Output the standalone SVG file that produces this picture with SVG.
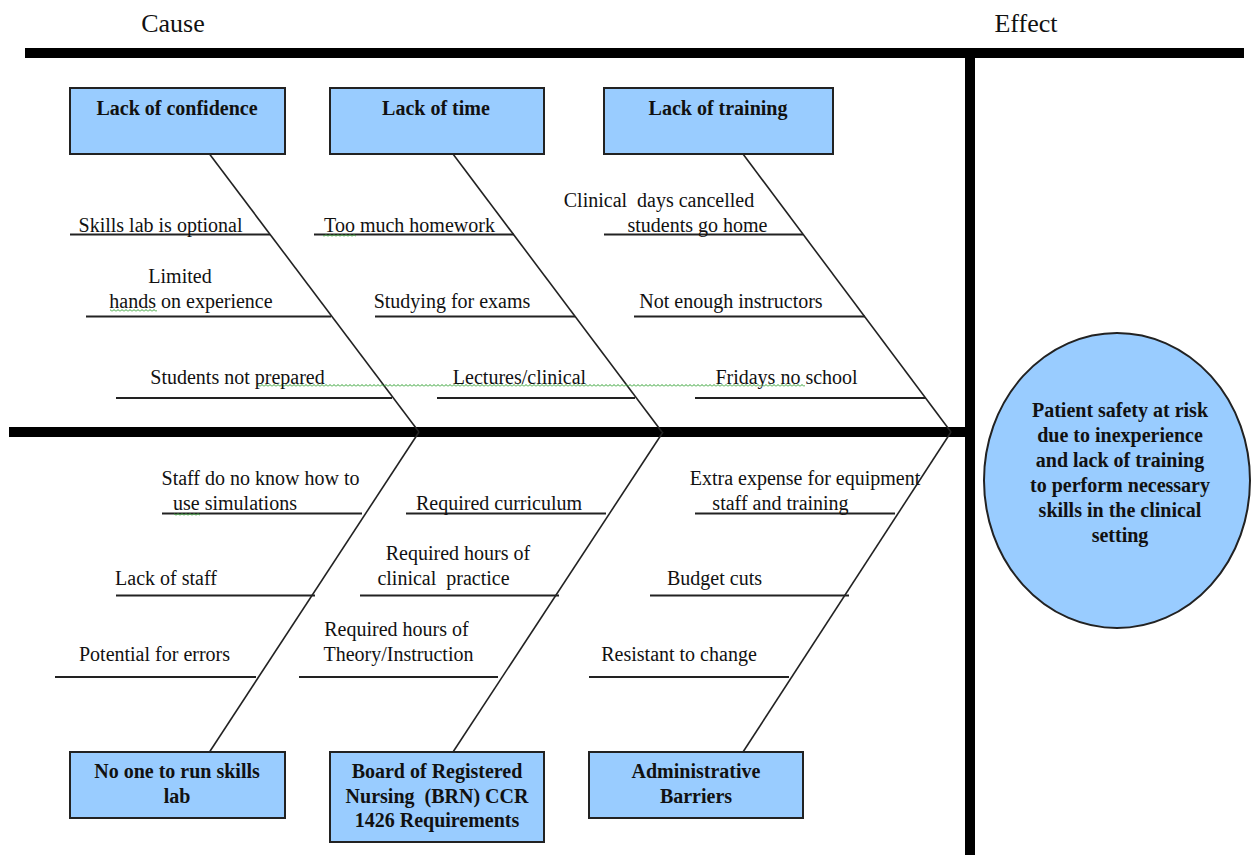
<svg xmlns="http://www.w3.org/2000/svg" width="1253" height="855" viewBox="0 0 1253 855">
<defs>
<style>
.lbl{font-family:"Liberation Serif","Times New Roman",serif;font-size:20px;fill:#111;text-anchor:middle}
.hd{font-family:"Liberation Serif","Times New Roman",serif;font-size:20px;font-weight:bold;fill:#111;text-anchor:middle}
.ttl{font-family:"Liberation Serif","Times New Roman",serif;font-size:26px;fill:#111;text-anchor:middle}
.box{fill:#99CCFF;stroke:#222;stroke-width:2}
.bone{stroke:#222;stroke-width:1.6;fill:none}
.rib{stroke:#222;stroke-width:2;fill:none}
.bar{fill:#000}
</style>
<pattern id="sq" width="4" height="3" patternUnits="userSpaceOnUse">
<path d="M0,2.5 L2,0.5 L4,2.5" stroke="#2e9e2e" stroke-width="1" fill="none"/>
</pattern>
</defs>
<rect width="1253" height="855" fill="#fff"/>

<text class="ttl" x="173" y="32">Cause</text>
<text class="ttl" x="1026" y="32">Effect</text>

<g id="frame">
<rect class="bar" x="25" y="48" width="1219" height="10"/>
<rect class="bar" x="965" y="48" width="10" height="807"/>
<rect class="bar" x="9" y="427" width="961" height="10"/>
</g>

<g id="connectors">
<line class="bone" x1="209.5" y1="154" x2="419" y2="432"/>
<line class="bone" x1="453" y1="154" x2="662" y2="432"/>
<line class="bone" x1="743" y1="154" x2="951" y2="432"/>
<line class="bone" x1="419" y1="432" x2="209.5" y2="752"/>
<line class="bone" x1="663" y1="432" x2="453" y2="752"/>
<line class="bone" x1="951" y1="432" x2="743" y2="752"/>
<line class="rib" x1="70" y1="234.5" x2="270" y2="234.5"/>
<line class="rib" x1="314" y1="234.5" x2="514" y2="234.5"/>
<line class="rib" x1="604" y1="234.5" x2="803" y2="234.5"/>
<line class="rib" x1="86" y1="316.5" x2="331" y2="316.5"/>
<line class="rib" x1="375" y1="316.5" x2="575" y2="316.5"/>
<line class="rib" x1="634" y1="316.5" x2="865" y2="316.5"/>
<line class="rib" x1="116" y1="398" x2="392" y2="398"/>
<line class="rib" x1="437" y1="398" x2="635" y2="398"/>
<line class="rib" x1="695" y1="398" x2="926" y2="398"/>
<line class="rib" x1="162" y1="513.5" x2="362" y2="513.5"/>
<line class="rib" x1="406" y1="513.5" x2="606" y2="513.5"/>
<line class="rib" x1="695" y1="513.5" x2="895" y2="513.5"/>
<line class="rib" x1="116" y1="595.5" x2="315" y2="595.5"/>
<line class="rib" x1="360" y1="595.5" x2="559" y2="595.5"/>
<line class="rib" x1="650" y1="595.5" x2="849" y2="595.5"/>
<line class="rib" x1="55" y1="677" x2="256" y2="677"/>
<line class="rib" x1="299" y1="677" x2="498" y2="677"/>
<line class="rib" x1="589" y1="677" x2="789" y2="677"/>
</g>

<g id="squiggles">
<rect x="257" y="384" width="548" height="3" fill="url(#sq)"/>
<rect x="323" y="234" width="33" height="3" fill="url(#sq)"/>
<rect x="110" y="309" width="47" height="3" fill="url(#sq)"/>
<rect x="174" y="513" width="26" height="3" fill="url(#sq)"/>
</g>

<g id="n-confidence">
<rect class="box" x="70" y="88" width="215" height="66"/>
<text class="hd" x="177" y="115">Lack of confidence</text>
</g>
<g id="n-time">
<rect class="box" x="330" y="88" width="214" height="66"/>
<text class="hd" x="436" y="115">Lack of time</text>
</g>
<g id="n-training">
<rect class="box" x="604" y="88" width="229" height="66"/>
<text class="hd" x="718" y="115">Lack of training</text>
</g>
<g id="n-skillslab">
<rect class="box" x="70" y="752" width="215" height="66"/>
<text class="hd" x="177" y="778">No one to run skills</text>
<text class="hd" x="177" y="803">lab</text>
</g>
<g id="n-brn">
<rect class="box" x="330" y="752" width="214" height="90"/>
<text class="hd" x="437" y="778">Board of Registered</text>
<text class="hd" x="437" y="803" xml:space="preserve">Nursing  (BRN) CCR</text>
<text class="hd" x="437" y="827">1426 Requirements</text>
</g>
<g id="n-admin">
<rect class="box" x="589" y="752" width="214" height="66"/>
<text class="hd" x="696" y="778">Administrative</text>
<text class="hd" x="696" y="803">Barriers</text>
</g>
<g id="n-effect">
<ellipse class="box" cx="1117" cy="480.5" rx="133" ry="147.5"/>
<text class="hd" x="1120" y="417">Patient safety at risk</text>
<text class="hd" x="1120" y="442">due to inexperience</text>
<text class="hd" x="1120" y="467">and lack of training</text>
<text class="hd" x="1120" y="492">to perform necessary</text>
<text class="hd" x="1120" y="517">skills in the clinical</text>
<text class="hd" x="1120" y="542">setting</text>
</g>

<g id="labels">
<text class="lbl" x="160.5" y="232">Skills lab is optional</text>
<text class="lbl" x="409.5" y="232">Too much homework</text>
<text class="lbl" x="659" y="207" xml:space="preserve">Clinical  days cancelled</text>
<text class="lbl" x="697.5" y="232">students go home</text>
<text class="lbl" x="180" y="283">Limited</text>
<text class="lbl" x="191" y="308">hands on experience</text>
<text class="lbl" x="452" y="308">Studying for exams</text>
<text class="lbl" x="731" y="308">Not enough instructors</text>
<text class="lbl" x="237.5" y="384">Students not prepared</text>
<text class="lbl" x="519.5" y="384">Lectures/clinical</text>
<text class="lbl" x="786.5" y="384">Fridays no school</text>
<text class="lbl" x="260.5" y="485">Staff do no know how to</text>
<text class="lbl" x="235" y="510">use simulations</text>
<text class="lbl" x="499" y="510">Required curriculum</text>
<text class="lbl" x="805" y="485">Extra expense for equipment</text>
<text class="lbl" x="780.5" y="510">staff and training</text>
<text class="lbl" x="166" y="585">Lack of staff</text>
<text class="lbl" x="458" y="560">Required hours of</text>
<text class="lbl" x="443.5" y="585" xml:space="preserve">clinical  practice</text>
<text class="lbl" x="714.5" y="585">Budget cuts</text>
<text class="lbl" x="154.5" y="661">Potential for errors</text>
<text class="lbl" x="396.5" y="636">Required hours of</text>
<text class="lbl" x="398.5" y="661">Theory/Instruction</text>
<text class="lbl" x="679" y="661">Resistant to change</text>
</g>
</svg>
